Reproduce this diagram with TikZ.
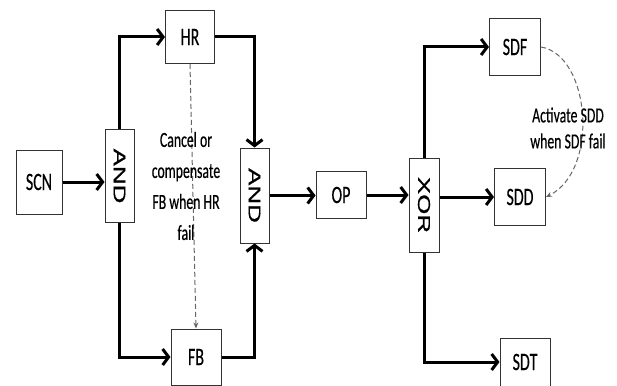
\documentclass[tikz,border=0pt]{standalone}
\usepackage{fontspec}
\setmainfont{Carlito}[BoldFont=Carlito, BoldFeatures={FakeBold=0.5}]
\newfontfamily\gatefont{Liberation Sans}[BoldFont=Liberation Sans, BoldFeatures={FakeBold=0.6}]
\usepackage{graphicx}
\usetikzlibrary{arrows.meta}
\newcommand{\sqz}[1]{\scalebox{0.64}[1]{\bfseries #1}}
\newcommand{\gtxt}[1]{\rotatebox{-90}{\scalebox{1}[0.66]{\gatefont\bfseries\fontsize{26}{26}\selectfont #1}}}
\tikzstyle{block} = [rectangle, draw=black!80, line width=1pt, minimum width=50pt, minimum height=56pt, inner sep=0pt, font=\fontsize{25}{25}\selectfont]
\tikzstyle{gate} = [rectangle, draw=black!80, line width=1pt, minimum width=29pt, minimum height=94pt, inner sep=0pt]
\tikzstyle{line} = [draw, line width=3pt, -{Straight Barb[length=6pt,width=16pt]}]
\tikzstyle{dline} = [draw, black!60, dash pattern=on 5pt off 3pt, line width=1pt, -{Stealth[length=6pt,width=5pt]}]
\tikzstyle{note} = [align=center, inner sep=0pt, font=\fontsize{21.5}{31}\selectfont]

\begin{document}
\begin{tikzpicture}[x=1pt, y=-1pt]
    \useasboundingbox (0,0) rectangle (617,385);
    \node [block, minimum width=46pt, minimum height=64pt] (scn) at (39,182) {\sqz{SCN}};
    \node [gate, minimum height=93pt] (and1) at (119.5,176) {\gtxt{AND}};
    \node [block, minimum width=49pt, minimum height=53pt] (hr) at (190,37) {\sqz{HR}};
    \node [block] (fb) at (196,357) {\sqz{FB}};
    \node [gate, minimum height=95pt] (and2) at (254.5,195.5) {\gtxt{AND}};
    \node [block, minimum height=47pt] (op) at (341,195) {\sqz{OP}};
    \node [gate, minimum width=30pt] (xor) at (424,205) {\gtxt{XOR}};
    \node [block, minimum width=51pt, minimum height=57pt] (sdf) at (515,47) {\sqz{SDF}};
    \node [block, minimum width=51pt, minimum height=57pt] (sdd) at (520,197) {\sqz{SDD}};
    \node [block, minimum height=48pt] (sdt) at (525,362) {\sqz{SDT}};
    \path [line] (scn.east) -- (scn.east -| and1.west);
    \path [line] (and1.north) |- (hr.west);
    \path [line] (hr.east) -| (and2.north);
    \path [line] (and1.south) |- (fb.west);
    \path [line] (fb.east) -| (and2.south);
    \path [line] (and2.east) -- (and2.east -| op.west);
    \path [line] (op.east) -- (op.east -| xor.west);
    \path [line] (xor.north) |- (sdf.west);
    \path [line] (xor.east |- sdd.west) -- (sdd.west);
    \path [line] (xor.south) |- (sdt.west);
    \path [dline] (hr.south) -- (fb.north);
    \path [dline] (sdf.east) .. controls (590,55) and (600,170) .. (sdd.east);
    \node [note] (cancel) at (186,186) {\sqz{Cancel or}\\ \sqz{compensate}\\ \sqz{FB when HR}\\ \sqz{fail}};
    \node [note, font=\fontsize{21.5}{26}\selectfont] (activate) at (568,128) {\sqz{Activate SDD}\\ \sqz{when SDF fail}};
\end{tikzpicture}
\end{document}
